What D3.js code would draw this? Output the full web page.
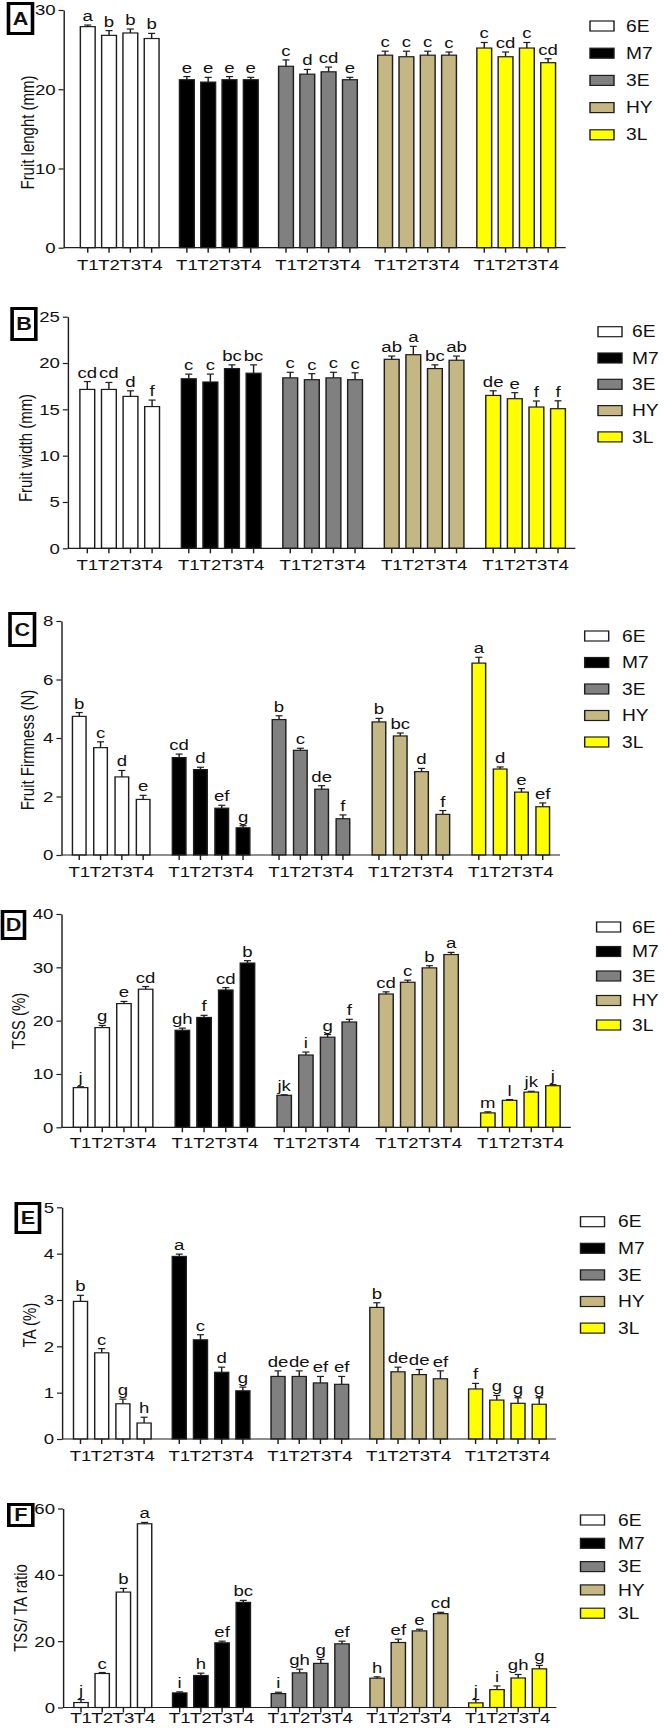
<!DOCTYPE html>
<html>
<head>
<meta charset="utf-8">
<script src="https://cdn.jsdelivr.net/npm/d3@7"></script>
<style>
  body { margin: 0; background: #fff; }
  text { font-family: "Liberation Sans", Arial, Helvetica, sans-serif; fill: #111; }
</style>
</head>
<body>
<svg id="chart" width="664" height="1728"></svg>
<script>
// categories
const genotypes = ["6E", "M7", "3E", "HY", "3L"];
const treatments = ["T1", "T2", "T3", "T4"];
const colors = ["#ffffff", "#000000", "#808080", "#c4b783", "#ffff00"];

// A - fruit length (mm)
const lengthMean = [[27.9, 26.8, 27.1, 26.4], [21.2, 20.9, 21.2, 21.2], [22.9, 21.9, 22.2, 21.2], [24.3, 24.1, 24.3, 24.3], [25.2, 24.1, 25.2, 23.35]];
const lengthErr = [[0.2, 0.6, 0.5, 0.65], [0.4, 0.6, 0.4, 0.3], [0.8, 0.6, 0.6, 0.3], [0.5, 0.7, 0.5, 0.4], [0.7, 0.6, 0.7, 0.5]];
const lengthLetters = [["a", "b", "b", "b"], ["e", "e", "e", "e"], ["c", "d", "cd", "e"], ["c", "c", "c", "c"], ["c", "cd", "c", "cd"]];
const lengthTicks = [0, 10, 20, 30];

// B - fruit width (mm)
const widthMean = [[17.15, 17.15, 16.4, 15.3], [18.3, 17.95, 19.4, 18.9], [18.4, 18.2, 18.4, 18.2], [20.4, 20.9, 19.4, 20.3], [16.5, 16.15, 15.25, 15.07]];
const widthErr = [[0.85, 0.75, 0.6, 0.7], [0.5, 0.85, 0.4, 0.9], [0.6, 0.65, 0.6, 0.75], [0.35, 0.9, 0.4, 0.45], [0.5, 0.65, 0.65, 0.85]];
const widthLetters = [["cd", "cd", "d", "f"], ["c", "c", "bc", "bc"], ["c", "c", "c", "c"], ["ab", "a", "bc", "ab"], ["de", "e", "f", "f"]];
const widthTicks = [0, 5, 10, 15, 20, 25];

// C - fruit firmness (N)
const firmMean = [[4.74, 3.67, 2.67, 1.9], [3.33, 2.92, 1.6, 0.93], [4.63, 3.58, 2.25, 1.24], [4.55, 4.07, 2.85, 1.39], [6.56, 2.94, 2.15, 1.65]];
const firmErr = [[0.13, 0.2, 0.22, 0.14], [0.12, 0.08, 0.1, 0.07], [0.13, 0.07, 0.12, 0.13], [0.12, 0.1, 0.11, 0.13], [0.2, 0.07, 0.12, 0.13]];
const firmLetters = [["b", "c", "d", "e"], ["cd", "d", "ef", "g"], ["b", "c", "de", "f"], ["b", "bc", "d", "f"], ["a", "d", "e", "ef"]];
const firmTicks = [0, 2, 4, 6, 8];

// D - TSS (%)
const tssMean = [[7.44, 18.7, 23.2, 25.9], [18.2, 20.6, 25.75, 30.8], [6.0, 13.56, 16.9, 19.75], [25.0, 27.2, 29.9, 32.4], [2.7, 5.06, 6.6, 7.8]];
const tssErr = [[0.16, 0.4, 0.4, 0.5], [0.4, 0.4, 0.45, 0.45], [0.1, 0.55, 0.5, 0.5], [0.4, 0.4, 0.4, 0.4], [0.2, 0.14, 0.15, 0.2]];
const tssLetters = [["j", "g", "e", "cd"], ["gh", "f", "cd", "b"], ["jk", "i", "g", "f"], ["cd", "c", "b", "a"], ["m", "l", "jk", "j"]];
const tssTicks = [0, 10, 20, 30, 40];

// E - TA (%)
const taMean = [[2.97, 1.86, 0.76, 0.345], [3.94, 2.14, 1.44, 1.04], [1.35, 1.35, 1.21, 1.18], [2.84, 1.45, 1.39, 1.3], [1.08, 0.84, 0.77, 0.75]];
const taErr = [[0.13, 0.09, 0.1, 0.125], [0.05, 0.11, 0.11, 0.08], [0.12, 0.12, 0.14, 0.17], [0.1, 0.1, 0.11, 0.17], [0.12, 0.1, 0.12, 0.14]];
const taLetters = [["b", "c", "g", "h"], ["a", "c", "d", "g"], ["de", "de", "ef", "ef"], ["b", "de", "de", "ef"], ["f", "g", "g", "g"]];
const taTicks = [0, 1, 2, 3, 4, 5];

// F - TSS/TA ratio
const ratioMean = [[1.5, 10.25, 34.8, 55.4], [4.4, 9.65, 19.5, 31.7], [4.2, 10.45, 13.3, 19.2], [8.85, 19.6, 23.1, 28.3], [1.4, 5.4, 8.9, 11.66]];
const ratioErr = [[0.9, 0.3, 1.1, 0.4], [0.3, 0.7, 0.5, 0.6], [0.4, 1.1, 1.2, 0.8], [0.4, 1.0, 0.5, 0.4], [1.0, 1.1, 1.05, 1.04]];
const ratioLetters = [["j", "c", "b", "a"], ["i", "h", "ef", "bc"], ["i", "gh", "g", "ef"], ["h", "ef", "e", "cd"], ["j", "i", "gh", "g"]];
const ratioTicks = [0, 20, 40, 60];

const panels = [
  { id: "A", label: "Fruit lenght (mm)", mean: lengthMean, err: lengthErr, letters: lengthLetters, ticks: lengthTicks },
  { id: "B", label: "Fruit width (mm)", mean: widthMean, err: widthErr, letters: widthLetters, ticks: widthTicks },
  { id: "C", label: "Fruit Firmness (N)", mean: firmMean, err: firmErr, letters: firmLetters, ticks: firmTicks },
  { id: "D", label: "TSS (%)", mean: tssMean, err: tssErr, letters: tssLetters, ticks: tssTicks },
  { id: "E", label: "TA (%)", mean: taMean, err: taErr, letters: taLetters, ticks: taTicks },
  { id: "F", label: "TSS/ TA ratio", mean: ratioMean, err: ratioErr, letters: ratioLetters, ticks: ratioTicks }
];

// page layout for each panel, in page pixels
const layouts = [
  { top: 10, bottom: 247.7, axisX: 63.6, axisEnd: 565.7, g1: 119.7, g5: 516.2, step: 21.3, barW: 14.8, legX: 590, legLX: 626, legY0: 26, legDy: 27.2, box: [7, 2, 34, 35], ylab: [27.5, 132.5], tickY: 265 },
  { top: 316.7, bottom: 548.3, axisX: 67.8, axisEnd: 575.4, g1: 119.7, g5: 525.6, step: 21.6, barW: 14.8, legX: 598, legLX: 632, legY0: 331.7, legDy: 26.3, box: [10.6, 307, 37.3, 341], ylab: [25.4, 448], tickY: 565 },
  { top: 621, bottom: 855, axisX: 61.4, axisEnd: 560, g1: 111.2, g5: 510.8, step: 21.3, barW: 13.6, legX: 584.7, legLX: 622, legY0: 636, legDy: 26.5, box: [8.5, 612, 36, 647], ylab: [27.5, 750], tickY: 871.7 },
  { top: 914, bottom: 1127.3, axisX: 61.4, axisEnd: 570.8, g1: 113.1, g5: 520.4, step: 21.7, barW: 14.4, legX: 596.6, legLX: 632, legY0: 927, legDy: 24.5, box: [1, 910, 26, 940], ylab: [19, 1021], tickY: 1143 },
  { top: 1207.3, bottom: 1439, axisX: 62, axisEnd: 556, g1: 112.3, g5: 507.4, step: 21.2, barW: 14, legX: 580.5, legLX: 618, legY0: 1221.7, legDy: 26.6, box: [14.8, 1202, 41, 1234], ylab: [29.7, 1325], tickY: 1456 },
  { top: 1508.5, bottom: 1707.5, axisX: 63, axisEnd: 556.4, g1: 112.8, g5: 507.6, step: 21.2, barW: 14.3, legX: 580.5, legLX: 618, legY0: 1520, legDy: 23.3, box: [7.3, 1503, 34.3, 1527], ylab: [21, 1608], tickY: 1717.5 }
];

// the original figure is stretched sideways, so everything is drawn in a scaled group
const SX = 1.2;
const X = v => v / SX;
const ink = "#1e1e1e";

const svg = d3.select("#chart");
const root = svg.append("g").attr("transform", `scale(${SX},1)`);

panels.forEach((p, pi) => {
  const L = layouts[pi];
  const g = root.append("g");
  const yMax = p.ticks[p.ticks.length - 1];

  const y = d3.scaleLinear().domain([0, yMax]).range([L.bottom, L.top]);
  const gx = d3.scalePoint().domain(genotypes).range([X(L.g1), X(L.g5)]);
  const pad = 1 - L.barW / L.step;
  const tx = d3.scaleBand().domain(treatments)
    .range([-2 * X(L.step), 2 * X(L.step)])
    .paddingInner(pad).paddingOuter(pad / 2);

  const rows = [];
  genotypes.forEach((gen, gi) => treatments.forEach((t, ti) => {
    rows.push({ gen, gi, t, v: p.mean[gi][ti], e: p.err[gi][ti], l: p.letters[gi][ti] });
  }));
  const cx = d => gx(d.gen) + tx(d.t) + tx.bandwidth() / 2;

  // bars
  g.selectAll("rect.bar")
    .data(rows)
    .enter()
    .append("rect")
    .attr("class", "bar")
    .attr("x", d => gx(d.gen) + tx(d.t))
    .attr("width", tx.bandwidth())
    .attr("y", d => y(d.v))
    .attr("height", d => y(0) - y(d.v))
    .attr("fill", d => colors[d.gi])
    .attr("stroke", ink)
    .attr("stroke-width", 1.2);

  // error bars (upper whisker only)
  const cap = X(3.5);
  const err = g.selectAll("g.err").data(rows).enter().append("g").attr("class", "err");
  err.append("line")
    .attr("x1", cx).attr("x2", cx)
    .attr("y1", d => y(d.v))
    .attr("y2", d => y(d.v + d.e))
    .attr("stroke", ink).attr("stroke-width", 1.2);
  err.append("line")
    .attr("x1", d => cx(d) - cap)
    .attr("x2", d => cx(d) + cap)
    .attr("y1", d => y(d.v + d.e))
    .attr("y2", d => y(d.v + d.e))
    .attr("stroke", ink).attr("stroke-width", 1.2);

  // significance letters
  g.selectAll("text.letter")
    .data(rows)
    .enter()
    .append("text")
    .attr("class", "letter")
    .attr("x", cx)
    .attr("y", d => y(d.v + d.e) - 4)
    .attr("text-anchor", "middle")
    .style("font-size", "15.5px")
    .text(d => d.l);

  // y axis
  g.append("g")
    .attr("transform", `translate(${X(L.axisX)},0)`)
    .call(d3.axisLeft(y).tickValues(p.ticks).tickFormat(d3.format("d"))
      .tickSize(X(5)).tickSizeOuter(0).tickPadding(X(3)))
    .call(a => a.selectAll("path, line").attr("stroke", ink).attr("stroke-width", 1.2))
    .call(a => a.selectAll("text").style("font-size", "15.5px").attr("fill", "#111"));

  // x axis baseline
  g.append("line")
    .attr("x1", X(L.axisX)).attr("x2", X(L.axisEnd))
    .attr("y1", y(0)).attr("y2", y(0))
    .attr("stroke", ink).attr("stroke-width", 1.2);

  // x ticks for each genotype group
  genotypes.forEach(gen => {
    g.append("g")
      .attr("transform", `translate(${gx(gen)},${y(0)})`)
      .call(d3.axisBottom(tx).tickSize(5).tickSizeOuter(0))
      .call(a => a.select(".domain").remove())
      .call(a => a.selectAll("line").attr("stroke", ink).attr("stroke-width", 1.2))
      .call(a => a.selectAll("text")
        .attr("y", L.tickY - L.bottom).attr("dy", "0.35em")
        .style("font-size", "15.5px").attr("fill", "#111"));
  });

  // y label
  g.append("text")
    .attr("transform", `translate(${X(L.ylab[0])},${L.ylab[1]}) rotate(-90)`)
    .attr("text-anchor", "middle")
    .attr("dy", "0.35em")
    .style("font-size", "15px")
    .text(p.label);

  // panel letter box
  const [bx0, by0, bx1, by1] = L.box;
  g.append("rect")
    .attr("x", X(bx0 + 1.5)).attr("y", by0 + 1.5)
    .attr("width", X(bx1 - bx0 - 3)).attr("height", by1 - by0 - 3)
    .attr("fill", "#fff").attr("stroke", "#000").attr("stroke-width", 3);
  g.append("text")
    .attr("x", X((bx0 + bx1) / 2)).attr("y", (by0 + by1) / 2)
    .attr("text-anchor", "middle").attr("dy", "0.36em")
    .style("font-size", "18px").style("font-weight", "bold")
    .text(p.id);

  // legend
  const leg = g.selectAll("g.leg")
    .data(genotypes)
    .enter()
    .append("g")
    .attr("class", "leg")
    .attr("transform", (d, i) => `translate(0,${L.legY0 + i * L.legDy})`);
  leg.append("rect")
    .attr("x", X(L.legX)).attr("y", -5)
    .attr("width", X(24)).attr("height", 10)
    .attr("fill", (d, i) => colors[i])
    .attr("stroke", ink).attr("stroke-width", 1.2);
  leg.append("text")
    .attr("x", X(L.legLX)).attr("dy", "0.35em")
    .style("font-size", "16px")
    .text(d => d);
});
</script>
</body>
</html>
